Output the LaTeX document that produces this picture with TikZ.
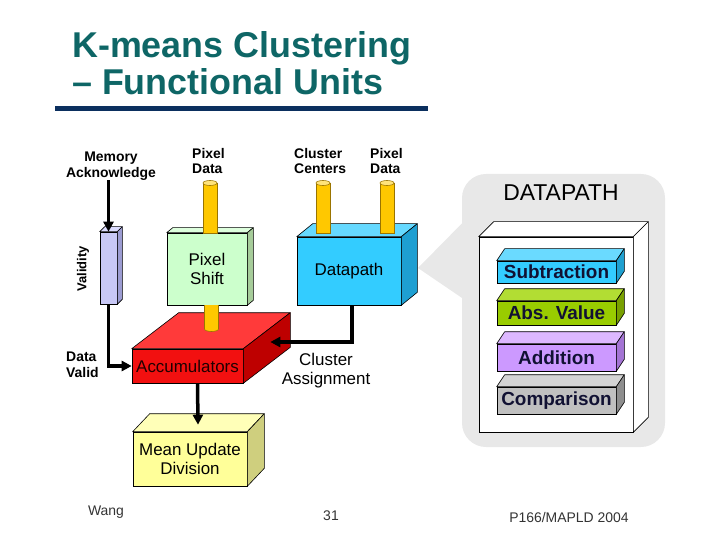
\documentclass[tikz,border=0pt]{standalone}
\usepackage{fontspec}
\setmainfont{Liberation Sans}
\usepackage{tikz}
\usetikzlibrary{arrows.meta,positioning,calc}
\definecolor{TitleTeal}{HTML}{0E6666}
\definecolor{RuleNavy}{HTML}{0B2F5E}
\definecolor{PipeGold}{HTML}{FFC800}
\definecolor{PipeTop}{HTML}{FFE37A}
\definecolor{PipeEdge}{HTML}{9A7400}
\definecolor{ValidFront}{HTML}{C8C8F6}
\definecolor{ValidTop}{HTML}{DCDCFF}
\definecolor{ValidSide}{HTML}{9C9CD2}
\definecolor{ShiftFront}{HTML}{CCFFCC}
\definecolor{ShiftTop}{HTML}{DDFFDD}
\definecolor{ShiftSide}{HTML}{A6CC9A}
\definecolor{PathFront}{HTML}{33CCFF}
\definecolor{PathTop}{HTML}{66D9FF}
\definecolor{PathSide}{HTML}{1E9FD2}
\definecolor{AccFront}{HTML}{F21010}
\definecolor{AccTop}{HTML}{FF3A3A}
\definecolor{AccSide}{HTML}{BE0000}
\definecolor{MeanFront}{HTML}{FFFF99}
\definecolor{MeanTop}{HTML}{FFFFB8}
\definecolor{MeanSide}{HTML}{CFCF7E}
\definecolor{SubTop}{HTML}{6ADAFF}
\definecolor{SubSide}{HTML}{1FA0D0}
\definecolor{AbsFront}{HTML}{99CC00}
\definecolor{AbsTop}{HTML}{B2DD33}
\definecolor{AbsSide}{HTML}{78A000}
\definecolor{AddFront}{HTML}{CC99FF}
\definecolor{AddTop}{HTML}{DDB8FF}
\definecolor{AddSide}{HTML}{A474D4}
\definecolor{CmpFront}{HTML}{C0C0C0}
\definecolor{CmpTop}{HTML}{D4D4D4}
\definecolor{CmpSide}{HTML}{8E8E8E}
\definecolor{CalloutGray}{HTML}{E8E8E8}
\definecolor{InkDark}{HTML}{111133}
\definecolor{AccInk}{HTML}{200000}
\definecolor{FootGray}{HTML}{333333}
\tikzset{
  FC/.style={rectangle,draw=black,line width=0.6bp,inner sep=0pt,
             align=center,font=\fontsize{17}{19}\selectfont},
  UB/.style={FC,minimum width=119bp,text=InkDark,
             font=\fontsize{19}{21}\selectfont\bfseries},
  TL/.style={inner sep=0pt,align=left,font=\fontsize{14}{16}\selectfont\bfseries},
  ML/.style={inner sep=0pt,align=center,font=\fontsize{17}{19}\selectfont},
  FT/.style={inner sep=0pt,text=FootGray,font=\fontsize{14}{16}\selectfont},
  face/.style={draw=black,line width=0.6bp,line join=round},
  arr/.style={-{Triangle[length=10bp,width=10bp]},line width=3.5bp}
}
% top and side faces of a box: node, dx, dy, top colour, side colour
\newcommand{\cubefaces}[5]{%
  \filldraw[face,fill=#4] (#1.north west) -- ++(#2,#3) -- ($(#1.north east)+(#2,#3)$) -- (#1.north east) -- cycle;
  \filldraw[face,fill=#5] (#1.north east) -- ++(#2,#3) -- ($(#1.south east)+(#2,#3)$) -- (#1.south east) -- cycle;
}
% upright pipe: x, top, bottom
\newcommand{\pipe}[3]{%
  \filldraw[fill=PipeGold,draw=PipeEdge,line width=0.6bp] (#1-7,#2) rectangle (#1+7,#3);
  \filldraw[fill=PipeTop,draw=PipeEdge,line width=0.6bp] (#1,#2) ellipse [x radius=7,y radius=2.5];
}
\newcommand{\stub}[3]{%
  \filldraw[fill=PipeGold,draw=PipeEdge,line width=0.6bp] (#1,#3) ellipse [x radius=7,y radius=2.5];
  \fill[PipeGold] (#1-7,#2) rectangle (#1+7,#3);
  \draw[PipeEdge,line width=0.6bp] (#1-7,#2) -- (#1-7,#3) (#1+7,#2) -- (#1+7,#3);
}

\begin{document}
\begin{tikzpicture}[x=1bp,y=-1bp]
  \useasboundingbox (0,0) rectangle (720,540);

  % title
  \node[anchor=north west,inner sep=0pt,align=left,text=TitleTeal,
        font=\fontsize{36}{37}\selectfont\bfseries] (title) at (72,31) {K-means Clustering\\– Functional Units};
  \draw[RuleNavy,line width=5bp] (55,109) -- (428,109);

  % datapath callout
  \node[fill=CalloutGray,rounded corners=24bp,minimum width=203bp,minimum height=273bp] (callout) at (563.5,310.5) {};
  \fill[CalloutGray] (418,268) -- ($(callout.west)+(1,-88)$) -- ($(callout.west)+(1,-12)$) -- cycle;
  \node[inner sep=0pt,font=\fontsize{23}{25}\selectfont] (dptitle) at (561,193) {DATAPATH};

  \node[FC,fill=white,minimum width=154bp,minimum height=195bp] (dpbox) at (556,334.5) {};
  \cubefaces{dpbox}{15}{-15}{white}{white}
  \node[UB,fill=PathFront,minimum height=22bp] (sub) at (556.5,272) {Subtraction};
  \cubefaces{sub}{8}{-12}{SubTop}{SubSide}
  \node[UB,fill=AbsFront,minimum height=24bp] (absv) at (556.5,313) {Abs. Value};
  \cubefaces{absv}{8}{-12}{AbsTop}{AbsSide}
  \node[UB,fill=AddFront,minimum height=27bp] (addn) at (556.5,357.5) {Addition};
  \cubefaces{addn}{8}{-12}{AddTop}{AddSide}
  \node[UB,fill=CmpFront,minimum height=27bp] (comp) at (556.5,400.5) {Comparison};
  \cubefaces{comp}{8}{-12}{CmpTop}{CmpSide}

  % functional units
  \node[FC,fill=ValidFront,minimum width=17bp,minimum height=72bp] (valid) at (108.5,268) {};
  \cubefaces{valid}{5}{-5}{ValidTop}{ValidSide}
  \node[FC,fill=ShiftFront,minimum width=80bp,minimum height=72bp] (shift) at (207,269) {Pixel\\Shift};
  \cubefaces{shift}{6}{-5}{ShiftTop}{ShiftSide}
  \node[FC,fill=PathFront,minimum width=104bp,minimum height=68bp] (dpath) at (349,271) {Datapath};
  \cubefaces{dpath}{16}{-13}{PathTop}{PathSide}
  \node[FC,fill=AccFront,text=AccInk,minimum width=111bp,minimum height=34bp] (accum) at (187.5,366) {Accumulators};
  \cubefaces{accum}{47}{-36}{AccTop}{AccSide}
  \node[FC,fill=MeanFront,minimum width=114bp,minimum height=54bp] (mean) at (190,459) {Mean Update\\Division};
  \cubefaces{mean}{17}{-18}{MeanTop}{MeanSide}

  \pipe{210}{183}{233}
  \pipe{323}{183}{233}
  \pipe{387}{183}{233}
  \stub{211.5}{305}{329}

  % labels
  \node[TL,align=center] (memack) at (111,166) {Memory\\Acknowledge};
  \node[TL,anchor=west] (pxla) at (192,161) {Pixel\\Data};
  \node[TL,anchor=west] (ccent) at (294,161) {Cluster\\Centers};
  \node[TL,anchor=west] (pxlb) at (370,161) {Pixel\\Data};
  \node[TL,rotate=90,font=\fontsize{13}{15}\selectfont\bfseries] (validity) at (83,269) {Validity};
  \node[TL,anchor=west] (dvalid) at (66,365) {Data\\Valid};
  \node[ML] (cassign) at (326,370.5) {Cluster\\Assignment};
  \coordinate (accside) at ($(accum.east)+(27,-24)$);

  % connectors
  \draw[arr] (valid.north |- memack.south) -- (valid.north);
  \draw[arr] (valid.south) |- (accum.west);
  \draw[arr] ([xshift=3bp]dpath.south) |- (accside);
  \draw[arr] ([xshift=10bp]accum.south) -- ([xshift=8bp,yshift=7bp]mean.north);

  % footer
  \node[FT] (author) at (106,512) {Wang};
  \node[FT] (pageno) at (331,516) {31};
  \node[FT] (venue) at (569,518) {P166/MAPLD 2004};
\end{tikzpicture}
\end{document}
